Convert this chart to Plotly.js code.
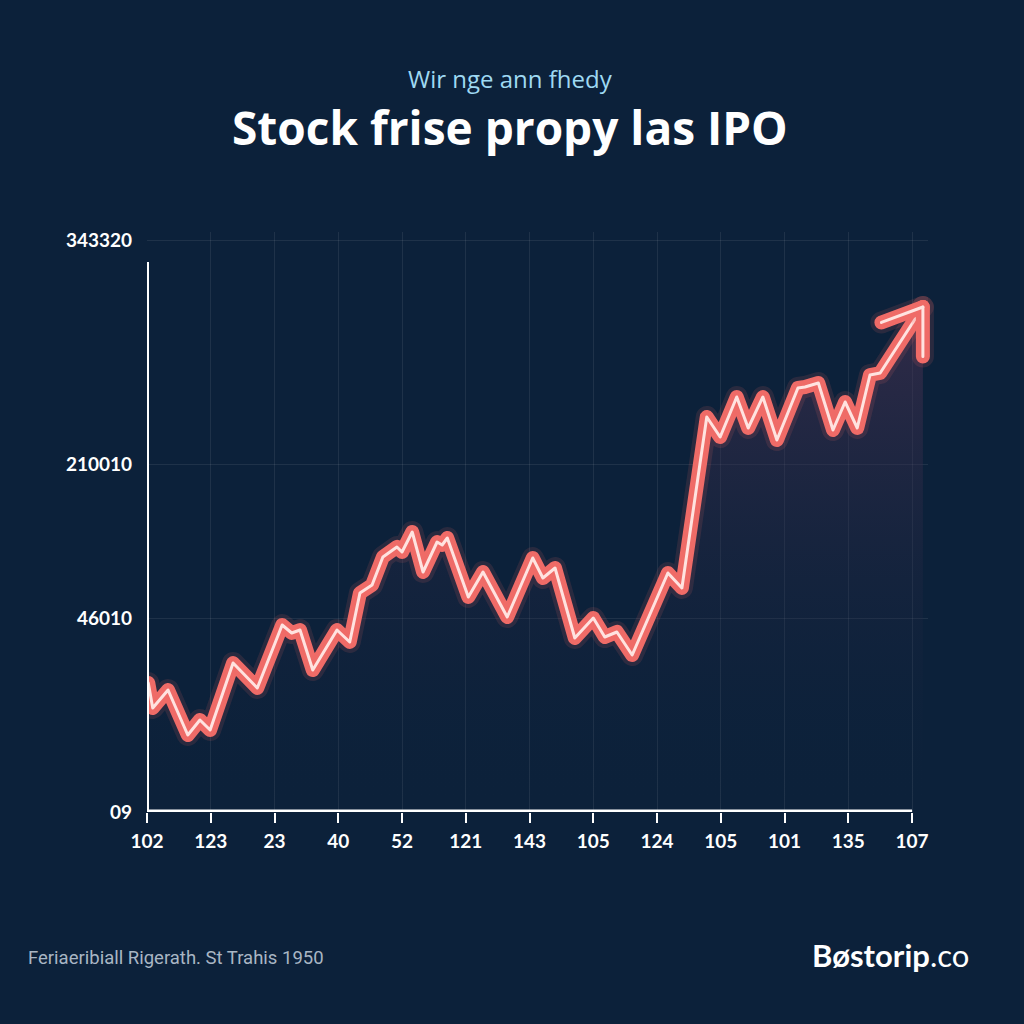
<!DOCTYPE html>
<html>
<head>
<meta charset="utf-8">
<script src="https://cdn.plot.ly/plotly-3.0.1.min.js"></script>
<style>
html,body{margin:0;padding:0;background:#0c213a;}
#chart{width:1024px;height:1024px;}
.js-plotly-plot .scatterlayer path.js-line{stroke-linejoin:round !important;stroke-linecap:round !important;}
.js-plotly-plot .annotation-arrow-g path{stroke-linecap:round !important;}
</style>
</head>
<body>
<div id="chart"></div>
<script>
// ---- data ----
const xTickLabels = ["102","123","23","40","52","121","143","105","124","105","101","135","107"];
const yTickLabels = ["09","46010","210010","343320"];
const yTickValues = [0, 194, 348, 572];

// position along the x axis (tick index units) and price values
const xPos = [0.02,0.09,0.33,0.64,0.83,0.99,1.35,1.73,2.12,2.27,2.40,2.60,2.98,3.18,3.34,3.53,3.70,3.92,4.00,4.16,4.33,4.55,4.63,4.71,5.04,5.27,5.65,6.05,6.21,6.40,6.71,7.00,7.18,7.37,7.61,8.17,8.39,8.78,8.99,9.25,9.43,9.66,9.88,10.21,10.32,10.53,10.76,10.95,11.14,11.34,11.50,12.17];
const price = [129,104,122,77,92,82,149,124,187,179,182,142,182,170,219,227,255,265,260,280,240,270,267,274,215,240,195,254,234,244,174,194,175,180,157,239,224,395,375,415,384,415,372,424,425,429,382,410,384,437,439,505];

const title = "Stock frise propy las IPO";
const subtitle = "Wir nge ann fhedy";
const sourceText = "Feriaeribiall Rigerath. St Trahis 1950";

const BG = "#0c213a";
const CORAL = "#ef6b67";
const CORE = "#ffe3e0";
const GLOW = "rgba(239,107,103,0.13)";

const tickIdx = xTickLabels.map((_, i) => i);

const traces = [
  {x: xPos, y: price, type: "scatter", mode: "lines", fill: "tozeroy",
   line: {width: 0, color: "rgba(0,0,0,0)"},
   fillgradient: {type: "vertical", colorscale: [[0, "rgba(12,33,58,0.0)"], [1, "rgba(75,50,82,0.6)"]]},
   hoverinfo: "skip"},
  {x: xPos, y: price, type: "scatter", mode: "lines", line: {width: 22, color: GLOW}, hoverinfo: "skip"},
  {x: xPos, y: price, type: "scatter", mode: "lines", line: {width: 14, color: CORAL}, hoverinfo: "skip"},
  {x: xPos, y: price, type: "scatter", mode: "lines", line: {width: 3, color: CORE}, hoverinfo: "skip"}
];

const last = xPos.length - 1;
const arms = [[-43, 16], [0, 51]];
const arrowAnn = [];
[[22, GLOW], [14, CORAL], [3, CORE]].forEach(([w, c]) => {
  arms.forEach(([ax, ay]) => {
    arrowAnn.push({x: xPos[last], y: price[last], xref: "x", yref: "y", text: "",
      showarrow: true, arrowhead: 0, ax: ax, ay: ay, arrowwidth: w, arrowcolor: c, standoff: 0, startstandoff: 0});
  });
});

const layout = {
  width: 1024, height: 1024,
  paper_bgcolor: BG, plot_bgcolor: BG,
  margin: {l: 147, r: 96, t: 232, b: 212},
  showlegend: false,
  xaxis: {
    range: [0, 12.25], tickmode: "array", tickvals: tickIdx, ticktext: xTickLabels,
    showgrid: true, gridcolor: "rgba(255,255,255,0.08)", gridwidth: 1,
    zeroline: false, showline: false,
    ticks: "outside", ticklen: 10, tickwidth: 2, tickcolor: "#ffffff",
    tickfont: {family: "Lato, 'Open Sans', sans-serif", size: 19, color: "#ffffff", weight: 700},
    ticklabelstandoff: 2, fixedrange: true
  },
  yaxis: {
    range: [0, 580], tickmode: "array", tickvals: yTickValues, ticktext: yTickLabels,
    showgrid: true, gridcolor: "rgba(255,255,255,0.08)", gridwidth: 1,
    zeroline: false, showline: false, ticks: "",
    tickfont: {family: "Lato, 'Open Sans', sans-serif", size: 19, color: "#ffffff", weight: 700},
    ticklabelstandoff: 14, fixedrange: true
  },
  shapes: [
    {type: "line", xref: "x", yref: "y", x0: 0, x1: 12, y0: 0, y1: 0, line: {color: "#ffffff", width: 5}, layer: "above"},
    {type: "line", xref: "x", yref: "y", x0: 0, x1: 0, y0: 0, y1: 550, line: {color: "#ffffff", width: 4}, layer: "above"}
  ],
  annotations: arrowAnn.concat([
    {text: subtitle, xref: "paper", yref: "paper", x: 0.465, y: 1.2655, xanchor: "center", yanchor: "middle",
     showarrow: false, font: {family: "'Open Sans', sans-serif", size: 24, color: "#9fd9f2"}},
    {text: "<b>" + title + "</b>", xref: "paper", yref: "paper", x: 0.465, y: 1.181, xanchor: "center", yanchor: "middle",
     showarrow: false, font: {family: "'Open Sans', sans-serif", size: 46, color: "#ffffff"}},
    {text: sourceText, xref: "paper", yref: "paper", x: -0.155, y: -0.251, xanchor: "left", yanchor: "middle",
     showarrow: false, font: {family: "Roboto, sans-serif", size: 18.5, color: "#a9b6c4"}},
    {text: "<b>Bøstorip</b>.co", xref: "paper", yref: "paper", x: 1.055, y: -0.247, xanchor: "right", yanchor: "middle",
     showarrow: false, font: {family: "Lato, sans-serif", size: 31, color: "#ffffff"}}
  ])
};

Plotly.newPlot("chart", traces, layout, {displayModeBar: false, staticPlot: true});
</script>
</body>
</html>
